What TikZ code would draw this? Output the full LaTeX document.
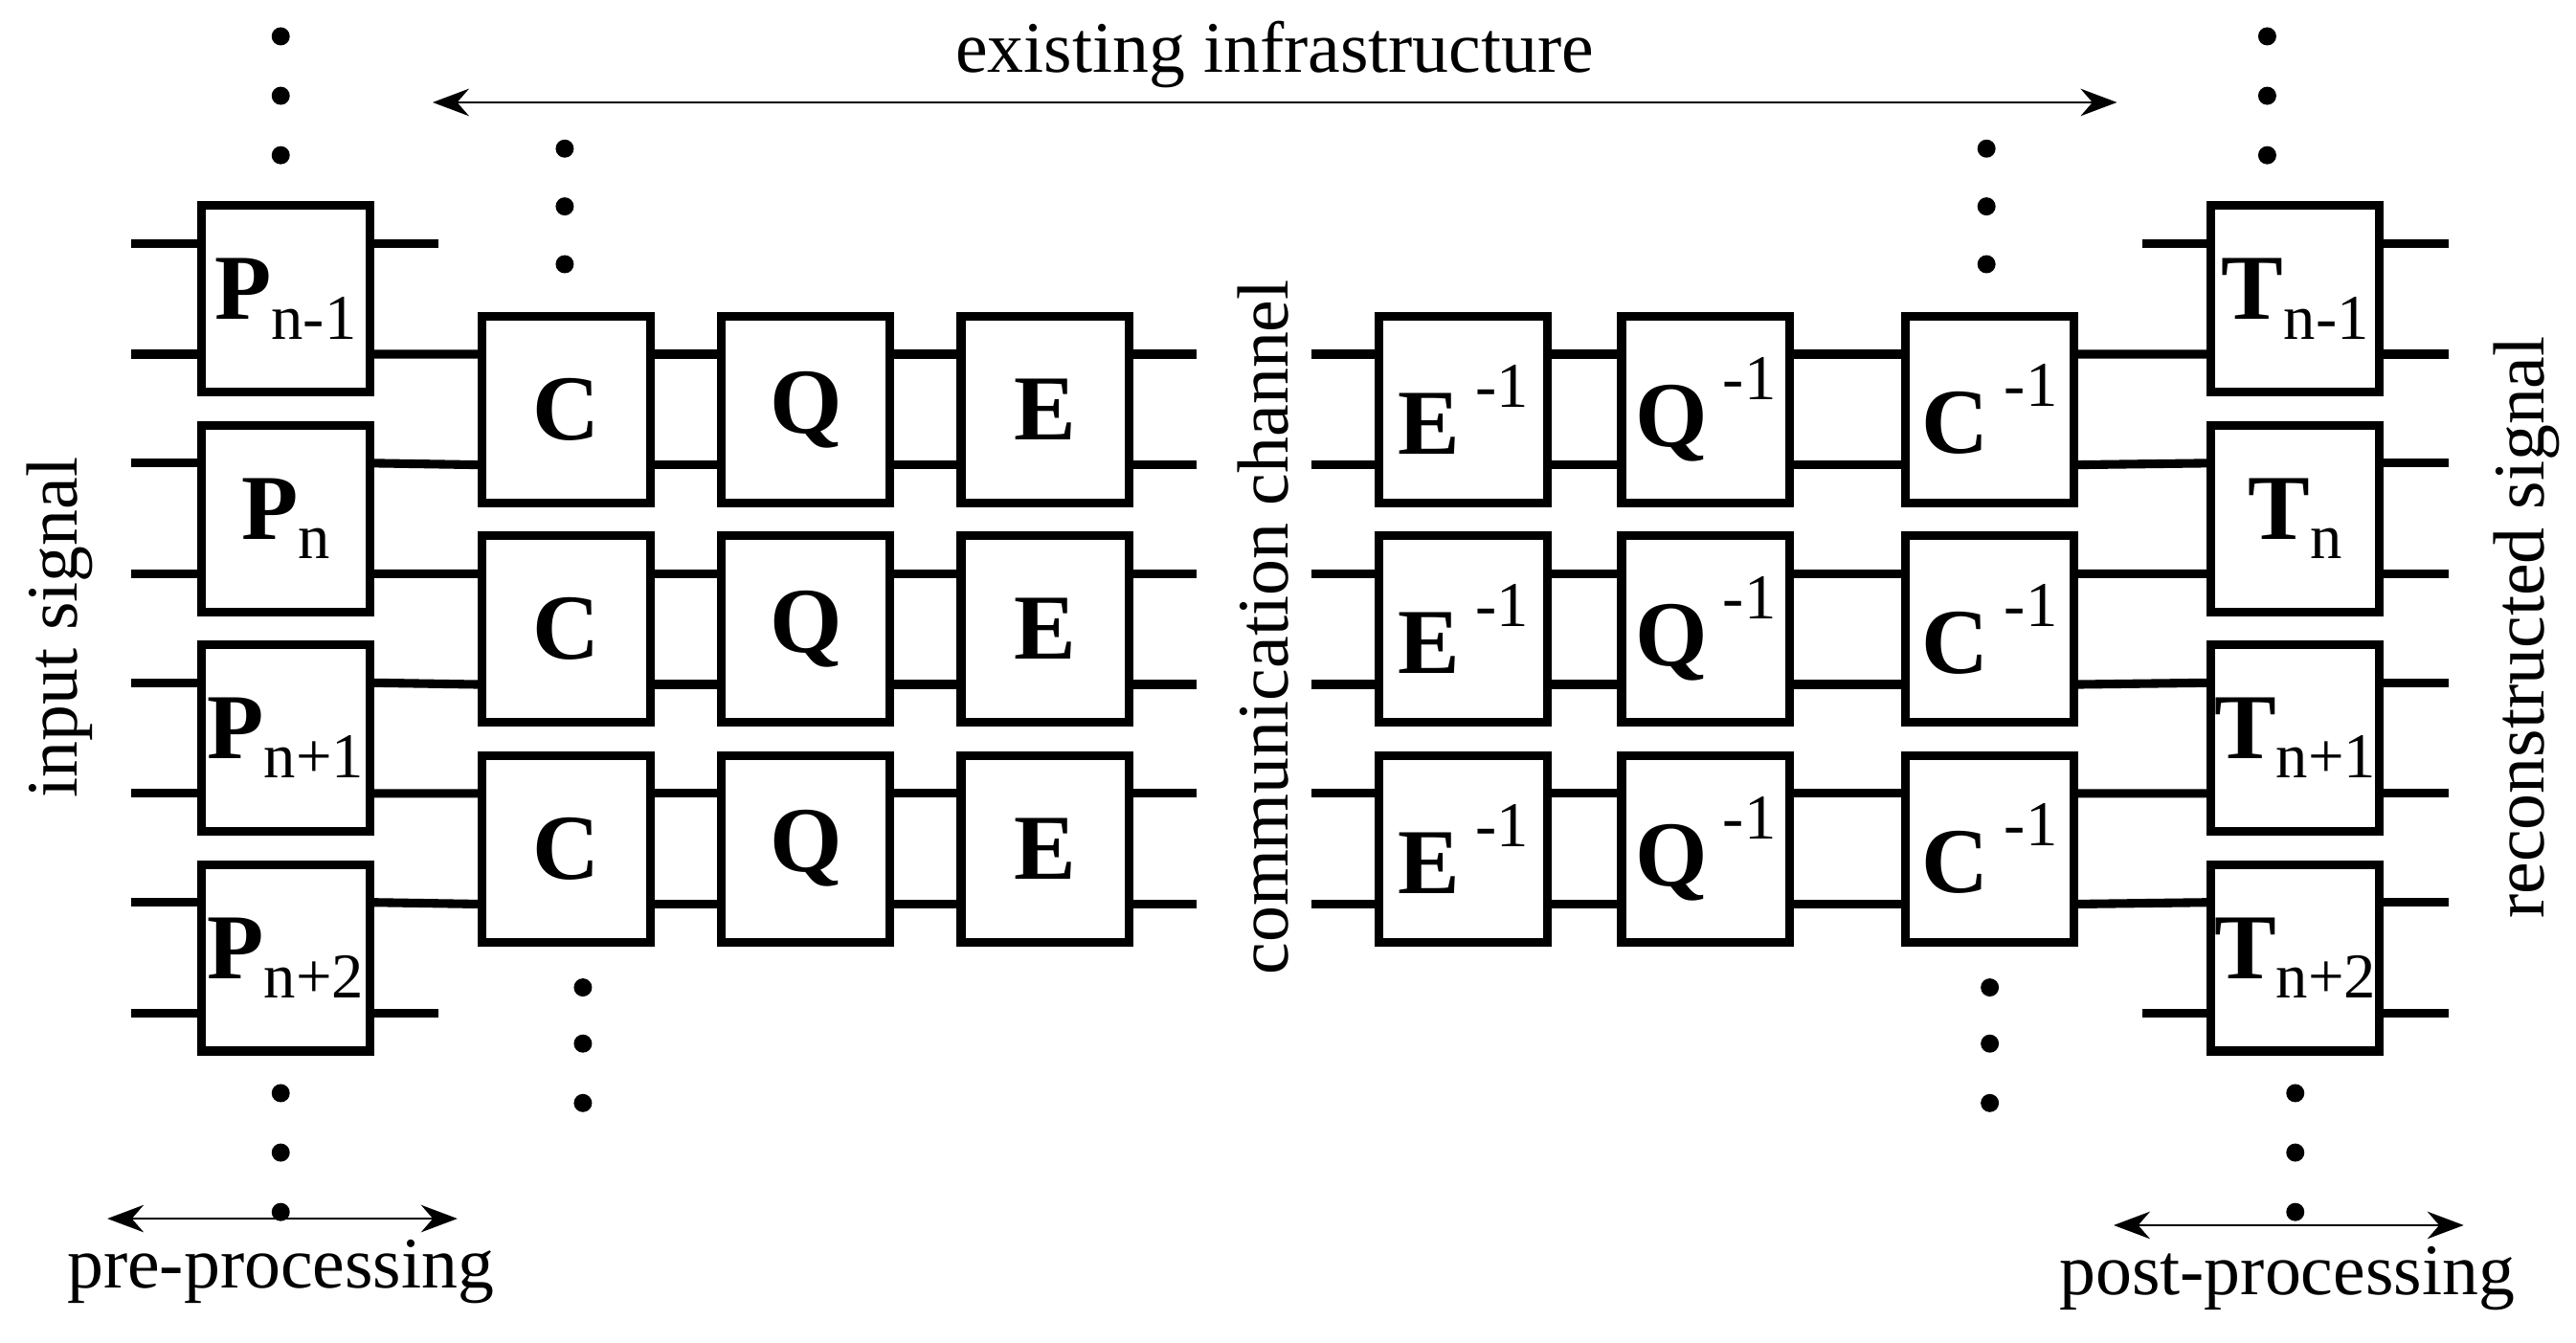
\documentclass[tikz,border=0pt]{standalone}
\usepackage{fontspec}
\setmainfont{Liberation Serif}
\usetikzlibrary{positioning,arrows.meta,calc}
\tikzset{block/.style={rectangle, draw=black, line width=1.5pt,
    text width=10.2mm, align=center, minimum height=11.3mm, inner sep=0pt,
    font=\fontsize{16}{16}\selectfont\bfseries},
  wire/.style={-, line width=1.5pt},
  span/.style={{Stealth[length=2.2mm]}-{Stealth[length=2.2mm]}, thin},
  dot/.style={circle, fill=black, inner sep=0pt, minimum size=1.1mm},
  label/.style={font=\fontsize{12.5}{12.5}\selectfont}
}
\newcommand{\sub}[1]{\raisebox{-0.45ex}{\fontsize{11}{11}\selectfont\mdseries #1}}
\newcommand{\inv}[1]{#1\,\raisebox{1.1ex}{\fontsize{11}{11}\selectfont\mdseries -1}}
\begin{document}
\begin{tikzpicture}[x=0.1mm, y=-0.1mm]
\useasboundingbox (0,0) rectangle (1560,813);

   %pre-processing column
   \node (P1) [block] at (173,181) {P\sub{n-1}};
   \node (P2) [block] at (173,314) {P\sub{n}};
   \node (P3) [block] at (173,447) {P\sub{n+1}};
   \node (P4) [block] at (173,580) {P\sub{n+2}};
   %post-processing column
   \node (T1) [block] at (1390,181) {T\sub{n-1}};
   \node (T2) [block] at (1390,314) {T\sub{n}};
   \node (T3) [block] at (1390,447) {T\sub{n+1}};
   \node (T4) [block] at (1390,580) {T\sub{n+2}};

   %encoder and decoder rows
   \foreach \i/\y in {1/248,2/381,3/514} {
     \node (C\i) [block] at (343,\y) {C};
     \node (Q\i) [block] at (488,\y) {Q};
     \node (E\i) [block] at (633,\y) {E};
     \node (D\i) [block] at (886,\y) {\inv{E}};
     \node (R\i) [block] at (1033,\y) {\inv{Q}};
     \node (U\i) [block] at (1205,\y) {\inv{C}};
     \draw [wire] ([yshift=3.35mm]C\i.east) -- ([yshift=3.35mm]Q\i.west);
     \draw [wire] ([yshift=-3.35mm]C\i.east) -- ([yshift=-3.35mm]Q\i.west);
     \draw [wire] ([yshift=3.35mm]Q\i.east) -- ([yshift=3.35mm]E\i.west);
     \draw [wire] ([yshift=-3.35mm]Q\i.east) -- ([yshift=-3.35mm]E\i.west);
     \draw [wire] ([yshift=3.35mm]D\i.east) -- ([yshift=3.35mm]R\i.west);
     \draw [wire] ([yshift=-3.35mm]D\i.east) -- ([yshift=-3.35mm]R\i.west);
     \draw [wire] ([yshift=3.35mm]R\i.east) -- ([yshift=3.35mm]U\i.west);
     \draw [wire] ([yshift=-3.35mm]R\i.east) -- ([yshift=-3.35mm]U\i.west);
     \draw [wire] ([yshift=3.35mm]E\i.east) -- ++(3.8mm,0);
     \draw [wire] ([yshift=-3.35mm]E\i.east) -- ++(3.8mm,0);
     \draw [wire] ([yshift=3.35mm]D\i.west) -- ++(-3.8mm,0);
     \draw [wire] ([yshift=-3.35mm]D\i.west) -- ++(-3.8mm,0);
   }

   %input and output wires
   \foreach \n in {1,...,4} {
     \draw [wire] ([yshift=3.35mm]P\n.west) -- ++(-4mm,0);
     \draw [wire] ([yshift=-3.35mm]P\n.west) -- ++(-4mm,0);
     \draw [wire] ([yshift=3.35mm]T\n.east) -- ++(3.9mm,0);
     \draw [wire] ([yshift=-3.35mm]T\n.east) -- ++(3.9mm,0);
   }
   \draw [wire] ([yshift=3.35mm]P1.east) -- ++(3.9mm,0);
   \draw [wire] ([yshift=-3.35mm]P4.east) -- ++(3.9mm,0);
   \draw [wire] ([yshift=3.35mm]T1.west) -- ++(-3.9mm,0);
   \draw [wire] ([yshift=-3.35mm]T4.west) -- ++(-3.9mm,0);

   %wires between the columns
   \foreach \i/\a/\b in {1/1/2,2/2/3,3/3/4} {
     \draw [wire] ([yshift=-3.35mm]P\a.east) -- ([yshift=3.35mm]C\i.west);
     \draw [wire] ([yshift=3.35mm]P\b.east) -- ([yshift=-3.35mm]C\i.west);
     \draw [wire] ([yshift=3.35mm]U\i.east) -- ([yshift=-3.35mm]T\a.west);
     \draw [wire] ([yshift=-3.35mm]U\i.east) -- ([yshift=3.35mm]T\b.west);
   }

   %continuation dots
   \foreach \y in {22,58,94} {
     \node [dot] at (170,\y) {};
     \node [dot] at (1373,\y) {};
   }
   \foreach \y in {662,698,734} {
     \node [dot] at (170,\y) {};
     \node [dot] at (1390,\y) {};
   }
   \foreach \y in {90,125,160} {
     \node [dot] at (342,\y) {};
     \node [dot] at (1203,\y) {};
   }
   \foreach \y in {598,632,668} {
     \node [dot] at (353,\y) {};
     \node [dot] at (1205,\y) {};
   }

   %labels and spans
   \coordinate (infraL) at (262,62);
   \coordinate (infraR) at (1282,62);
   \draw [span] (infraL) -- (infraR);
   \node (infra) [label] at (772,33) {existing infrastructure};
   \coordinate (preL) at (65,738);
   \coordinate (preR) at (277,738);
   \draw [span] (preL) -- (preR);
   \node (pre) [label] at (170,770) {pre-processing};
   \coordinate (postL) at (1280,742);
   \coordinate (postR) at (1492,742);
   \draw [span] (postL) -- (postR);
   \node (post) [label] at (1385,774) {post-processing};
   \node (input) [label, rotate=90] at (36,380) {input signal};
   \node (channel) [label, rotate=90] at (765,380) {communication channel};
   \node (output) [label, rotate=90] at (1530,380) {reconstructed signal};

\end{tikzpicture}
\end{document}
